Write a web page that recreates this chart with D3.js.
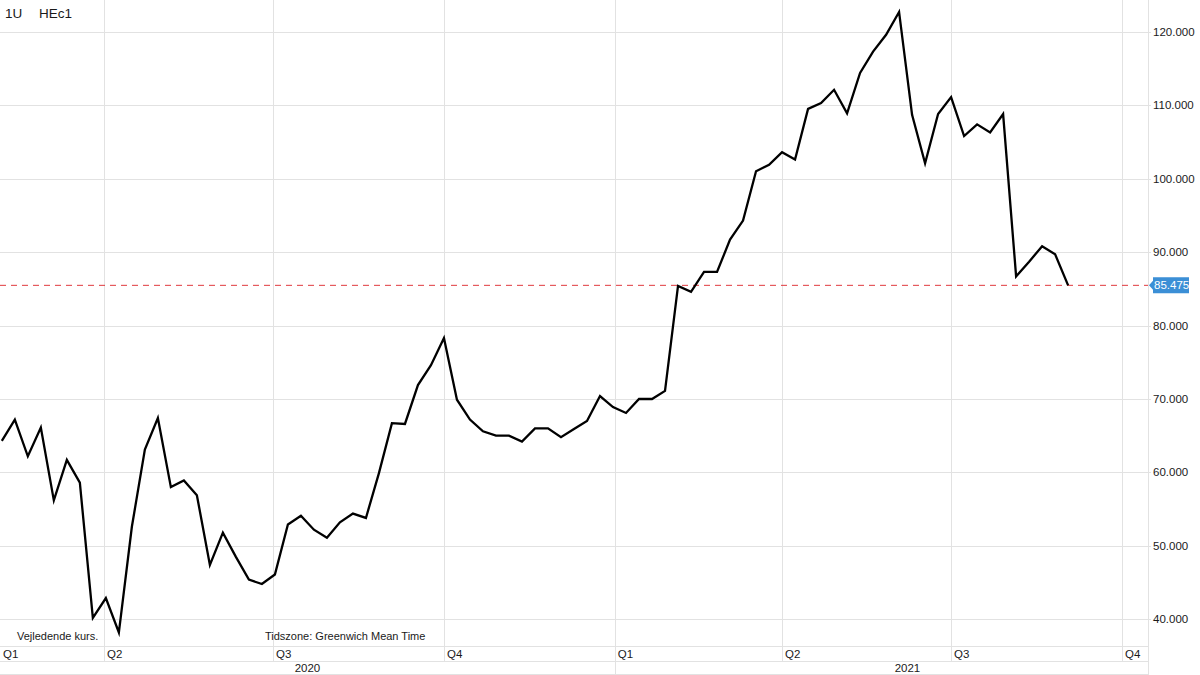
<!DOCTYPE html>
<html>
<head>
<meta charset="utf-8">
<script src="https://cdn.jsdelivr.net/npm/d3@7"></script>
<style>
  html, body { margin: 0; padding: 0; background: #fff; }
  svg { display: block; font-family: "Liberation Sans", Arial, Helvetica, sans-serif; }
</style>
</head>
<body>
<svg id="chart" width="1200" height="675"></svg>
<script>
// ---- data ----
const symbolLabels = ["1U", "HEc1"];
const firstDate = "2020-02-06";          // first weekly observation
const prices = [
  64.3, 67.2, 62.2, 66.1, 56.2, 61.7, 58.6, 40.2, 42.9, 38.2,
  52.6, 63.1, 67.4, 58.0, 58.9, 56.9, 47.4, 51.8, 48.5, 45.4,
  44.8, 46.1, 52.9, 54.1, 52.2, 51.1, 53.2, 54.4, 53.8, 59.9,
  66.7, 66.6, 71.9, 74.6, 78.3, 69.9, 67.2, 65.6, 65.0, 65.0,
  64.2, 66.0, 66.0, 64.8, 65.9, 67.0, 70.4, 68.9, 68.1, 70.0,
  70.0, 71.1, 85.4, 84.6, 87.3, 87.3, 91.7, 94.3, 101.0, 101.9,
  103.6, 102.6, 109.5, 110.3, 112.1, 108.9, 114.4, 117.3, 119.6, 122.7,
  108.7, 102.1, 108.8, 111.1, 105.8, 107.4, 106.3, 108.8, 86.7, 88.7,
  90.8, 89.7, 85.475
];
const lastPrice = 85.475;
const yTicks = [40, 50, 60, 70, 80, 90, 100, 110, 120];
const quarterStarts = ["2020-04-01", "2020-07-01", "2020-10-01", "2021-01-01", "2021-04-01", "2021-07-01", "2021-10-01"];
const quarterLabels = ["Q1", "Q2", "Q3", "Q4", "Q1", "Q2", "Q3", "Q4"];
const years = ["2020", "2021"];
const notes = ["Vejledende kurs.", "Tidszone: Greenwich Mean Time"];

// ---- layout ----
const W = 1200, H = 675;
const plotRight = 1148;
const plotTop = 0, qRowTop = 646, yearRowTop = 661, bottomLine = 674;
const parse = d3.utcParse("%Y-%m-%d");
const start = parse(firstDate);
const dates = prices.map((_, i) => d3.utcDay.offset(start, 7 * i));

const x = d3.scaleUtc()
  .domain([parse("2020-04-01"), parse("2021-10-01")])
  .range([104, 1122]);
const y = d3.scaleLinear().domain([40, 120]).range([619.3, 31.8]);

const svg = d3.select("#chart");
svg.append("rect").attr("width", W).attr("height", H).attr("fill", "#fff");
svg.append("defs").append("clipPath").attr("id", "plotclip")
  .append("rect").attr("x", 0).attr("y", 0).attr("width", plotRight).attr("height", qRowTop);

const grid = "#e2e2e2";
// horizontal gridlines
svg.append("g").selectAll("line").data(yTicks).join("line")
  .attr("x1", 0).attr("x2", plotRight + 3)
  .attr("y1", d => Math.round(y(d)) + 0.5).attr("y2", d => Math.round(y(d)) + 0.5)
  .attr("stroke", grid).attr("stroke-width", 1);

// vertical quarter gridlines
const qDates = quarterStarts.map(parse);
svg.append("g").selectAll("line").data(qDates).join("line")
  .attr("x1", d => Math.round(x(d)) + 0.5).attr("x2", d => Math.round(x(d)) + 0.5)
  .attr("y1", plotTop).attr("y2", yearRowTop)
  .attr("stroke", grid).attr("stroke-width", 1);

// axis row lines
[qRowTop, yearRowTop, bottomLine].forEach(yy => {
  svg.append("line").attr("x1", 0).attr("x2", plotRight)
    .attr("y1", yy + 0.5).attr("y2", yy + 0.5)
    .attr("stroke", grid).attr("stroke-width", 1);
});
// right border
svg.append("line").attr("x1", plotRight + 0.5).attr("x2", plotRight + 0.5)
  .attr("y1", 0).attr("y2", H).attr("stroke", grid).attr("stroke-width", 1);
// year divider
const y2021 = parse("2021-01-01");
svg.append("line").attr("x1", Math.round(x(y2021)) + 0.5).attr("x2", Math.round(x(y2021)) + 0.5)
  .attr("y1", yearRowTop).attr("y2", H).attr("stroke", grid).attr("stroke-width", 1);

// y tick labels (right)
const fmt = d => d3.format(".3f")(d);
svg.append("g").selectAll("text").data(yTicks).join("text")
  .attr("x", plotRight + 5).attr("y", d => y(d) + 4)
  .attr("font-size", 11.5).attr("fill", "#1a1a1a")
  .text(fmt);

// quarter labels
const qLabelX = [0].concat(qDates.map(d => x(d)));
svg.append("g").selectAll("text").data(quarterLabels).join("text")
  .attr("x", (d, i) => qLabelX[i] + 3).attr("y", 657.5)
  .attr("font-size", 11.5).attr("fill", "#1a1a1a")
  .text(d => d);

// year labels
const yearCenters = [ (0 + x(y2021)) / 2, (x(y2021) + W) / 2 ];
svg.append("g").selectAll("text").data(years).join("text")
  .attr("x", (d, i) => yearCenters[i]).attr("y", 672)
  .attr("text-anchor", "middle").attr("font-size", 11.5).attr("fill", "#1a1a1a")
  .text(d => d);

// notes
svg.append("text").attr("x", 17).attr("y", 640).attr("font-size", 11).attr("fill", "#1a1a1a").text(notes[0]);
svg.append("text").attr("x", 265).attr("y", 640).attr("font-size", 11).attr("fill", "#1a1a1a").text(notes[1]);

// symbol labels
svg.append("text").attr("x", 5).attr("y", 18).attr("font-size", 13.5).attr("fill", "#1a1a1a").text(symbolLabels[0]);
svg.append("text").attr("x", 39).attr("y", 18).attr("font-size", 13.5).attr("fill", "#1a1a1a").text(symbolLabels[1]);

// last price dashed line
svg.append("line").attr("x1", 0).attr("x2", plotRight)
  .attr("y1", y(lastPrice)).attr("y2", y(lastPrice))
  .attr("stroke", "#e0393e").attr("stroke-width", 1).attr("stroke-dasharray", "6,5");

// price line
const line = d3.line().x((d, i) => x(dates[i])).y(d => y(d));
svg.append("path").datum(prices)
  .attr("clip-path", "url(#plotclip)")
  .attr("d", line).attr("fill", "none")
  .attr("stroke", "#000").attr("stroke-width", 2.3)
  .attr("stroke-linejoin", "miter").attr("stroke-miterlimit", 10);

// last price label
const ly = y(lastPrice);
const lbl = svg.append("g");
lbl.append("path")
  .attr("d", `M${plotRight + 1},${ly} L${plotRight + 5},${ly - 4.5} L${plotRight + 5},${ly - 8} L${plotRight + 41},${ly - 8} L${plotRight + 41},${ly + 8} L${plotRight + 5},${ly + 8} L${plotRight + 5},${ly + 4.5} Z`)
  .attr("fill", "#3b8fd6");
lbl.append("text").attr("x", plotRight + 6).attr("y", ly + 4)
  .attr("font-size", 11.5).attr("fill", "#fff").text(fmt(lastPrice));
</script>
</body>
</html>
